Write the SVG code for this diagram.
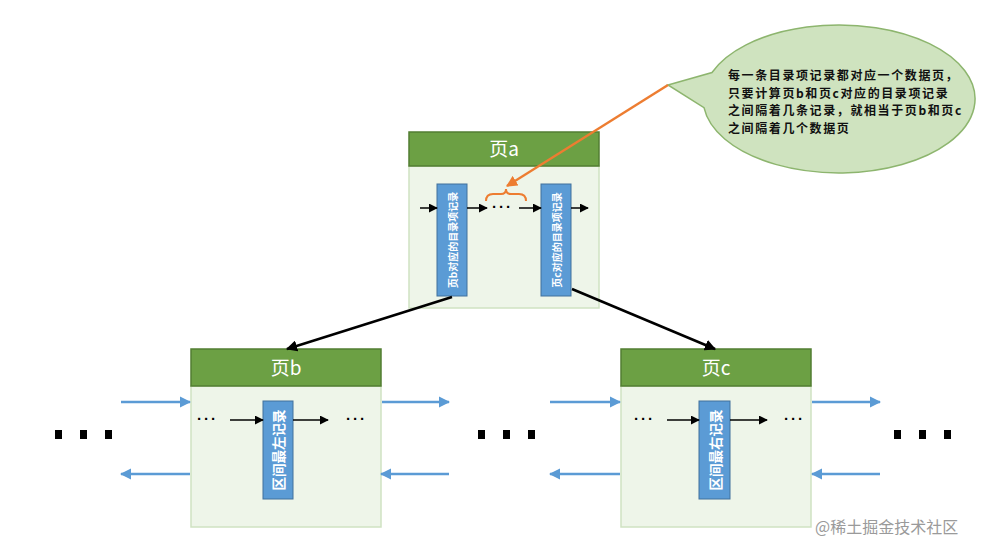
<svg xmlns="http://www.w3.org/2000/svg" width="994" height="555" viewBox="0 0 994 555">
<style>
.hdr{fill:#6ca044;stroke:#527e32;stroke-width:1.5}
.body{fill:#eef5e9;stroke:#cfe2c2;stroke-width:1.5}
.rec{fill:#5b9bd5;stroke:#41719c;stroke-width:1}
.title{font-family:"Noto Sans CJK SC","Liberation Sans",sans-serif;font-size:19px;fill:#ffffff;text-anchor:middle}
.vt{font-family:"Noto Sans CJK SC",sans-serif;fill:#ffffff;text-anchor:middle;dominant-baseline:central;font-weight:bold}
.dots{font-family:"Liberation Sans",sans-serif;font-size:15px;letter-spacing:2px;fill:#000;font-weight:bold}
.blk{stroke:#000;stroke-width:1.5;fill:none}
.blue{stroke:#5b9bd5;stroke-width:2.5;fill:none}
.big{stroke:#000;stroke-width:2.5;fill:none}
.note{font-family:"Noto Sans CJK SC",serif;font-size:12px;letter-spacing:1.6px;fill:#111;font-weight:bold}
.sq{fill:#000}
</style>
<defs>
<marker id="ab" viewBox="0 0 10 10" refX="9" refY="5" markerWidth="6" markerHeight="6" orient="auto" markerUnits="strokeWidth"><path d="M0,0 L10,5 L0,10 z" fill="#000"/></marker>
<marker id="abig" viewBox="0 0 10 10" refX="9" refY="5" markerWidth="4.5" markerHeight="4.5" orient="auto" markerUnits="strokeWidth"><path d="M0,0 L10,5 L0,10 z" fill="#000"/></marker>
<marker id="abl" viewBox="0 0 10 10" refX="9" refY="5" markerWidth="4.5" markerHeight="4.5" orient="auto" markerUnits="strokeWidth"><path d="M0,0 L10,5 L0,10 z" fill="#5b9bd5"/></marker>
<marker id="aor" viewBox="0 0 10 10" refX="9" refY="5" markerWidth="4.5" markerHeight="4.5" orient="auto" markerUnits="strokeWidth"><path d="M0,0 L10,5 L0,10 z" fill="#ed7d31"/></marker>
</defs>

<g id="bubble">
<path d="M668,85 L712,72.5 A136,74 0 1 1 704,107.7 Z" fill="#cfe3bf" stroke="#8db56e" stroke-width="1.5"/>
<text class="note" x="728" y="80">每一条目录项记录都对应一个数据页，</text>
<text class="note" x="728" y="97.5">只要计算页b和页c对应的目录项记录</text>
<text class="note" x="728" y="115">之间隔着几条记录，就相当于页b和页c</text>
<text class="note" x="728" y="132.5">之间隔着几个数据页</text>
</g>

<g id="page-a">
<rect class="body" x="409" y="166" width="190" height="142"/>
<rect class="hdr" x="409" y="132" width="190" height="34"/>
<text class="title" x="504" y="156">页a</text>
<rect class="rec" x="437" y="184" width="30" height="112"/>
<text class="vt" font-size="10" transform="translate(452,240) rotate(-90)">页b对应的目录项记录</text>
<rect class="rec" x="541" y="184" width="30" height="112"/>
<text class="vt" font-size="10" transform="translate(556,240) rotate(-90)">页c对应的目录项记录</text>
<text class="dots" x="492" y="212">···</text>
</g>

<g id="page-b">
<rect class="body" x="191" y="386" width="190" height="141"/>
<rect class="hdr" x="191" y="349" width="190" height="37"/>
<text class="title" x="286" y="375">页b</text>
<rect class="rec" x="263" y="401" width="30" height="98"/>
<text class="vt" font-size="13.5" transform="translate(278,450) rotate(-90)">区间最左记录</text>
<text class="dots" x="197" y="424">···</text>
<text class="dots" x="346" y="424">···</text>
</g>

<g id="page-c">
<rect class="body" x="621" y="386" width="190" height="141"/>
<rect class="hdr" x="621" y="349" width="190" height="37"/>
<text class="title" x="716" y="375">页c</text>
<rect class="rec" x="699" y="401" width="31" height="98"/>
<text class="vt" font-size="13.5" transform="translate(714.5,450) rotate(-90)">区间最右记录</text>
<text class="dots" x="634" y="424">···</text>
<text class="dots" x="784" y="424">···</text>
</g>

<g id="ellipsis-left"><rect class="sq" x="55" y="430" width="7" height="9"/><rect class="sq" x="80" y="430" width="7" height="9"/><rect class="sq" x="105" y="430" width="7" height="9"/></g>
<g id="ellipsis-mid"><rect class="sq" x="478" y="430" width="7" height="9"/><rect class="sq" x="503" y="430" width="7" height="9"/><rect class="sq" x="528" y="430" width="7" height="9"/></g>
<g id="ellipsis-right"><rect class="sq" x="894" y="430" width="7" height="9"/><rect class="sq" x="919" y="430" width="7" height="9"/><rect class="sq" x="944" y="430" width="7" height="9"/></g>

<g id="connectors">
<line class="blk" x1="420" y1="208" x2="437" y2="208" marker-end="url(#ab)"/>
<line class="blk" x1="467" y1="208" x2="487" y2="208" marker-end="url(#ab)"/>
<line class="blk" x1="519" y1="208" x2="541" y2="208" marker-end="url(#ab)"/>
<line class="blk" x1="571" y1="208" x2="588" y2="208" marker-end="url(#ab)"/>
<path d="M486,201 Q486,194 493,194 L501,194 Q506,194 506,189 Q506,194 511,194 L519,194 Q526,194 526,201" fill="none" stroke="#ed7d31" stroke-width="2"/>
<line x1="668" y1="85" x2="507" y2="186" stroke="#ed7d31" stroke-width="2.5" marker-end="url(#aor)"/>
<line class="big" x1="452" y1="297" x2="287" y2="349" marker-end="url(#abig)"/>
<line class="big" x1="572" y1="289" x2="715" y2="349" marker-end="url(#abig)"/>
<line class="blk" x1="230" y1="420" x2="263" y2="420" marker-end="url(#ab)"/>
<line class="blk" x1="293" y1="420" x2="328" y2="420" marker-end="url(#ab)"/>
<line class="blk" x1="667" y1="420" x2="699" y2="420" marker-end="url(#ab)"/>
<line class="blk" x1="730" y1="420" x2="767" y2="420" marker-end="url(#ab)"/>
<line class="blue" x1="121" y1="402" x2="190" y2="402" marker-end="url(#abl)"/>
<line class="blue" x1="382" y1="402" x2="449" y2="402" marker-end="url(#abl)"/>
<line class="blue" x1="190" y1="474" x2="121" y2="474" marker-end="url(#abl)"/>
<line class="blue" x1="449" y1="474" x2="381" y2="474" marker-end="url(#abl)"/>
<line class="blue" x1="550" y1="402" x2="620" y2="402" marker-end="url(#abl)"/>
<line class="blue" x1="812" y1="402" x2="880" y2="402" marker-end="url(#abl)"/>
<line class="blue" x1="620" y1="474" x2="550" y2="474" marker-end="url(#abl)"/>
<line class="blue" x1="880" y1="474" x2="812" y2="474" marker-end="url(#abl)"/>
</g>

<text x="815" y="533" font-family="Noto Sans CJK SC,sans-serif" font-size="16" fill="#9a9a9a">@稀土掘金技术社区</text>
</svg>
